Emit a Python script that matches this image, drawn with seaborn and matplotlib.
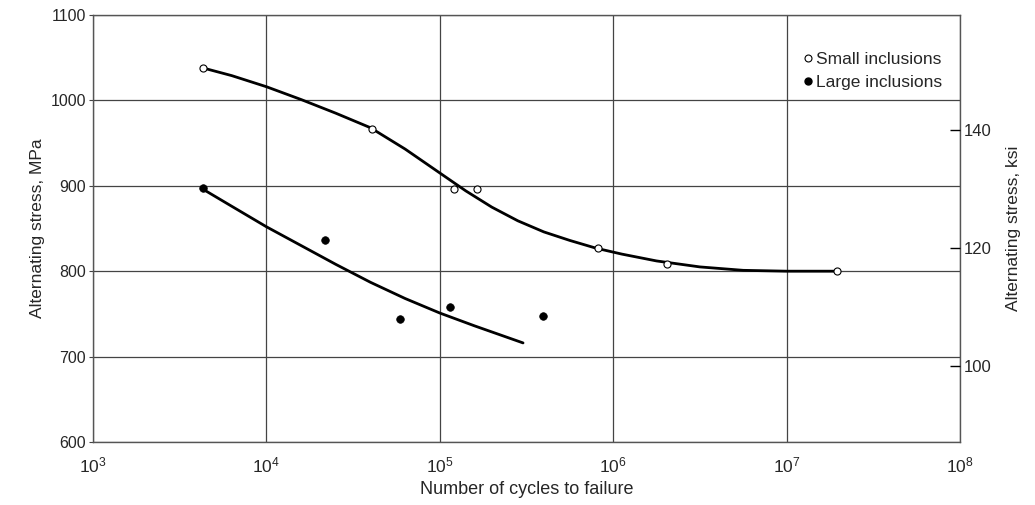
import numpy as np
import pandas as pd
import matplotlib
matplotlib.use("Agg")
import matplotlib.pyplot as plt
from matplotlib.lines import Line2D
import seaborn as sns

# --- data ---
small_cycles = [4.3e3, 4.06e4, 1.21e5, 1.64e5, 8.2e5, 2.04e6, 1.95e7]
small_stress = [1038, 966, 896, 896, 827, 808, 800]

large_cycles = [4.3e3, 2.18e4, 5.9e4, 1.15e5, 3.94e5]
large_stress = [897, 837, 744, 758, 748]

small_curve_cycles = [4305, 6310, 1.0e4, 1.585e4, 2.512e4, 3.981e4, 6.31e4, 1.0e5,
                      1.413e5, 1.995e5, 2.818e5, 3.981e5, 5.623e5, 7.943e5, 1.122e6,
                      1.778e6, 3.162e6, 5.623e6, 1.0e7, 1.95e7]
small_curve_stress = [1038, 1029, 1016, 1001, 985, 968, 943, 915,
                      894, 875, 859, 846, 836, 827, 820,
                      812, 805, 801, 800, 800]

large_curve_cycles = [4305, 6310, 1.0e4, 1.585e4, 2.512e4, 3.981e4, 6.31e4, 1.0e5,
                      1.585e5, 3.02e5]
large_curve_stress = [896, 876, 852, 830, 808, 787, 768, 751, 736, 716]

x_ticks = [1e3, 1e4, 1e5, 1e6, 1e7, 1e8]
y_ticks_mpa = [600, 700, 800, 900, 1000, 1100]
y_ticks_ksi = [100, 120, 140]
MPA_PER_KSI = 6.895

sns.set_theme(style="white")
plt.rcParams['font.family'] = ['Liberation Sans', 'DejaVu Sans']
plt.rcParams['mathtext.default'] = 'regular'

fig = plt.figure(figsize=(10.35, 5.05), dpi=100)
ax = fig.add_axes([0.0899, 0.1248, 0.8376, 0.8455])

df_sc = pd.DataFrame({"N": small_curve_cycles, "S": small_curve_stress})
df_lc = pd.DataFrame({"N": large_curve_cycles, "S": large_curve_stress})
df_s = pd.DataFrame({"N": small_cycles, "S": small_stress})
df_l = pd.DataFrame({"N": large_cycles, "S": large_stress})

ax.set_xscale("log")
ax.set_xlim(1e3, 1e8)
ax.set_ylim(600, 1100)

sns.lineplot(data=df_sc, x="N", y="S", ax=ax, color="black", lw=2.0, sort=False, zorder=3)
sns.lineplot(data=df_lc, x="N", y="S", ax=ax, color="black", lw=2.0, sort=False, zorder=3)
sns.scatterplot(data=df_s, x="N", y="S", ax=ax, marker="o", s=26, facecolor="white",
                edgecolor="black", linewidth=0.8, zorder=4)
sns.scatterplot(data=df_l, x="N", y="S", ax=ax, marker="o", s=30, color="black",
                edgecolor="black", linewidth=0.5, zorder=4)

ax.set_xticks(x_ticks)
ax.set_xticklabels([f"$10^{{{int(np.log10(v))}}}$" for v in x_ticks], fontsize=12.5)
ax.minorticks_off()
ax.set_yticks(y_ticks_mpa)
ax.set_yticklabels([str(v) for v in y_ticks_mpa], fontsize=11.5)
ax.grid(True, which="major", color="#444444", lw=0.9)
ax.tick_params(axis="y", direction="out", length=3, width=0.8, color="#444444", pad=2)
ax.tick_params(axis="x", direction="out", length=0, pad=10)
for sp in ax.spines.values():
    sp.set_color("#555555")
    sp.set_linewidth(1.0)

ax.set_xlabel("Number of cycles to failure", fontsize=13, labelpad=4)
ax.set_ylabel("Alternating stress, MPa", fontsize=12.5, labelpad=4)

ax2 = ax.twinx()
ax2.set_ylim(600 / MPA_PER_KSI, 1100 / MPA_PER_KSI)
ax2.set_yticks(y_ticks_ksi)
ax2.set_yticklabels([str(v) for v in y_ticks_ksi], fontsize=12)
ax2.tick_params(axis="y", direction="in", length=7, width=1.0, color="black", pad=3)
ax2.set_ylabel("Alternating stress, ksi", fontsize=12.5, labelpad=10)
ax2.grid(False)
for sp in ax2.spines.values():
    sp.set_visible(False)

handles = [Line2D([], [], marker="o", ls="none", markerfacecolor="white",
                  markeredgecolor="black", markersize=5, markeredgewidth=0.8),
           Line2D([], [], marker="o", ls="none", color="black", markersize=5)]
ax.legend(handles, ["Small inclusions", "Large inclusions"], loc="upper right",
          bbox_to_anchor=(0.998, 0.95), frameon=False, fontsize=12.5,
          handletextpad=0.0, handlelength=1.0, labelspacing=0.45)

fig.savefig("out.png", dpi=100)
